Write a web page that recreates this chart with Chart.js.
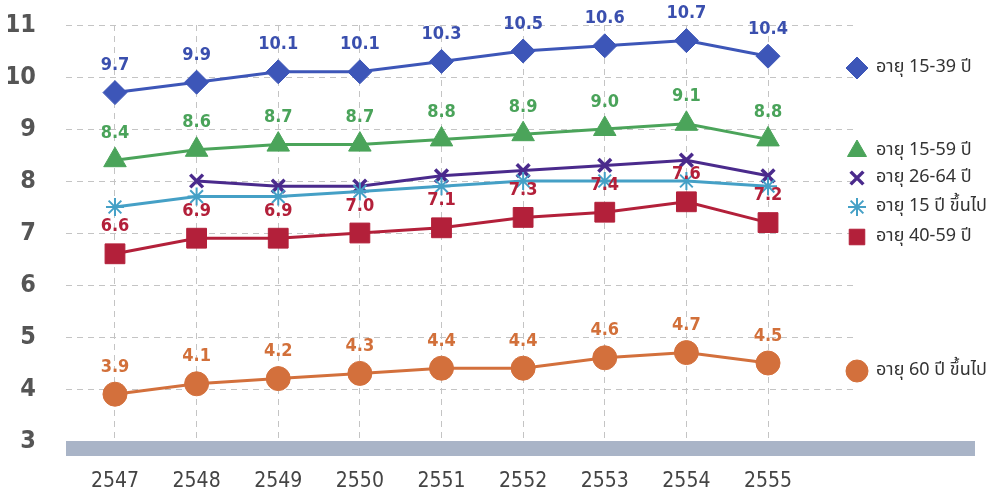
<!DOCTYPE html>
<html>
<head>
<meta charset="utf-8">
<script src="https://cdn.jsdelivr.net/npm/chart.js@4/dist/chart.umd.min.js"></script>
<style>
  html, body { margin: 0; padding: 0; background: #fff; }
  #wrap { width: 996px; height: 501px; position: relative; }
</style>
</head>
<body>
<div id="wrap"><canvas id="chart"></canvas></div>
<script>
const years = [2547, 2548, 2549, 2550, 2551, 2552, 2553, 2554, 2555];
const yTicks = [3, 4, 5, 6, 7, 8, 9, 10, 11];

const age1539 = [9.7, 9.9, 10.1, 10.1, 10.3, 10.5, 10.6, 10.7, 10.4];
const age1559 = [8.4, 8.6, 8.7, 8.7, 8.8, 8.9, 9.0, 9.1, 8.8];
const age2664 = [null, 8.0, 7.9, 7.9, 8.1, 8.2, 8.3, 8.4, 8.1];
const age15up = [7.5, 7.7, 7.7, 7.8, 7.9, 8.0, 8.0, 8.0, 7.9];
const age4059 = [6.6, 6.9, 6.9, 7.0, 7.1, 7.3, 7.4, 7.6, 7.2];
const age60up = [3.9, 4.1, 4.2, 4.3, 4.4, 4.4, 4.6, 4.7, 4.5];

const seriesNames = ["อายุ 15-39 ปี", "อายุ 15-59 ปี", "อายุ 26-64 ปี", "อายุ 15 ปี ขึ้นไป", "อายุ 40-59 ปี", "อายุ 60 ปี ขึ้นไป"];

const NUM_FONT = "'Liberation Sans Narrow', 'DejaVu Sans Condensed', 'Liberation Sans', sans-serif";
const THAI_FONT = "'Noto Sans Thai', 'Noto Sans', 'DejaVu Sans', sans-serif";

function pts(arr) {
  return arr.map((v, i) => ({ x: years[i], y: v }));
}

function makeSet(label, arr, color, style, radius, bw, labelColor) {
  return {
    label: label,
    data: pts(arr),
    borderColor: color,
    backgroundColor: color,
    pointBackgroundColor: color,
    pointBorderColor: color,
    pointStyle: style,
    pointRadius: radius,
    pointBorderWidth: bw,
    borderWidth: 3,
    tension: 0,
    spanGaps: false,
    valueColor: labelColor,
  };
}

const datasets = [
  makeSet(seriesNames[5], age60up, "#d3703c", "circle", 12, 1, "#d2703a"),
  makeSet(seriesNames[4], age4059, "#b3203a", "rect", 14, 1, "#b3203a"),
  makeSet(seriesNames[3], age15up, "#45a0c6", "star", 9, 2, null),
  makeSet(seriesNames[2], age2664, "#4a2a8c", "crossRot", 9, 3.5, null),
  makeSet(seriesNames[1], age1559, "#4ba45a", "triangle", 13, 1, "#4aa35a"),
  makeSet(seriesNames[0], age1539, "#3d56b8", "rectRot", 12, 1, "#3a4fae"),
];

// legend placement (pixels), order follows seriesNames
const legendY = [68, 151, 178, 207, 237, 371];

const bottomBar = {
  id: "bottomBar",
  beforeDatasetsDraw(chart) {
    const { ctx, chartArea } = chart;
    const y0 = chart.scales.y.getPixelForValue(3);
    ctx.save();
    ctx.fillStyle = "#a9b4c7";
    ctx.fillRect(chartArea.left, y0, 975 - chartArea.left, 15);
    ctx.restore();
  },
};

const valueLabels = {
  id: "valueLabels",
  afterDatasetsDraw(chart) {
    const { ctx } = chart;
    ctx.save();
    ctx.font = "bold 18px " + NUM_FONT;
    ctx.textAlign = "center";
    ctx.textBaseline = "middle";
    chart.data.datasets.forEach((ds, di) => {
      if (!ds.valueColor) return;
      const meta = chart.getDatasetMeta(di);
      ctx.fillStyle = ds.valueColor;
      meta.data.forEach((p, i) => {
        const v = ds.data[i].y;
        if (v == null) return;
        ctx.fillText(v.toFixed(1), p.x, p.y - 27);
      });
    });
    ctx.restore();
  },
};

const sideLegend = {
  id: "sideLegend",
  afterDraw(chart) {
    const { ctx } = chart;
    ctx.save();
    seriesNames.forEach((name, i) => {
      const ds = chart.data.datasets.find(d => d.label === name);
      const y = legendY[i];
      const r = Math.min(ds.pointRadius, 11);
      ctx.fillStyle = ds.pointBackgroundColor;
      ctx.strokeStyle = ds.pointBorderColor;
      ctx.lineWidth = ds.pointBorderWidth;
      Chart.helpers.drawPoint(ctx, { pointStyle: ds.pointStyle, radius: r, borderWidth: ds.pointBorderWidth }, 857, y);
      ctx.fillStyle = "#333";
      ctx.font = "18px " + THAI_FONT;
      ctx.textAlign = "left";
      ctx.textBaseline = "middle";
      ctx.fillText(name, 876, y);
    });
    ctx.restore();
  },
};

new Chart(document.getElementById("chart"), {
  type: "line",
  data: { datasets: datasets },
  plugins: [bottomBar, valueLabels, sideLegend],
  options: {
    responsive: true,
    maintainAspectRatio: false,
    animation: false,
    layout: { padding: { left: 8, right: 139, top: 0, bottom: 0 } },
    plugins: {
      legend: { display: false },
      tooltip: { enabled: false },
    },
    scales: {
      x: {
        type: "linear",
        min: 2546.4,
        max: 2556.09,
        afterBuildTicks(scale) {
          scale.ticks = years.map(v => ({ value: v }));
        },
        afterFit(scale) { scale.height = 60; },
        ticks: {
          padding: 28,
          color: "#444",
          font: { family: NUM_FONT, size: 21 },
          callback: v => String(v),
        },
        grid: { color: "#c4c4c4", drawTicks: false },
        border: { display: false, dash: [6, 5] },
      },
      y: {
        min: 3,
        max: 11,
        afterBuildTicks(scale) {
          scale.ticks = yTicks.map(v => ({ value: v }));
        },
        afterFit(scale) {
          scale.width = 58;
          scale.paddingTop = 25;
        },
        ticks: {
          padding: 30,
          color: "#555",
          font: { family: NUM_FONT, size: 25, weight: "bold" },
        },
        grid: { color: "#c4c4c4", drawTicks: false },
        border: { display: false, dash: [6, 5] },
      },
    },
  },
});
</script>
</body>
</html>
